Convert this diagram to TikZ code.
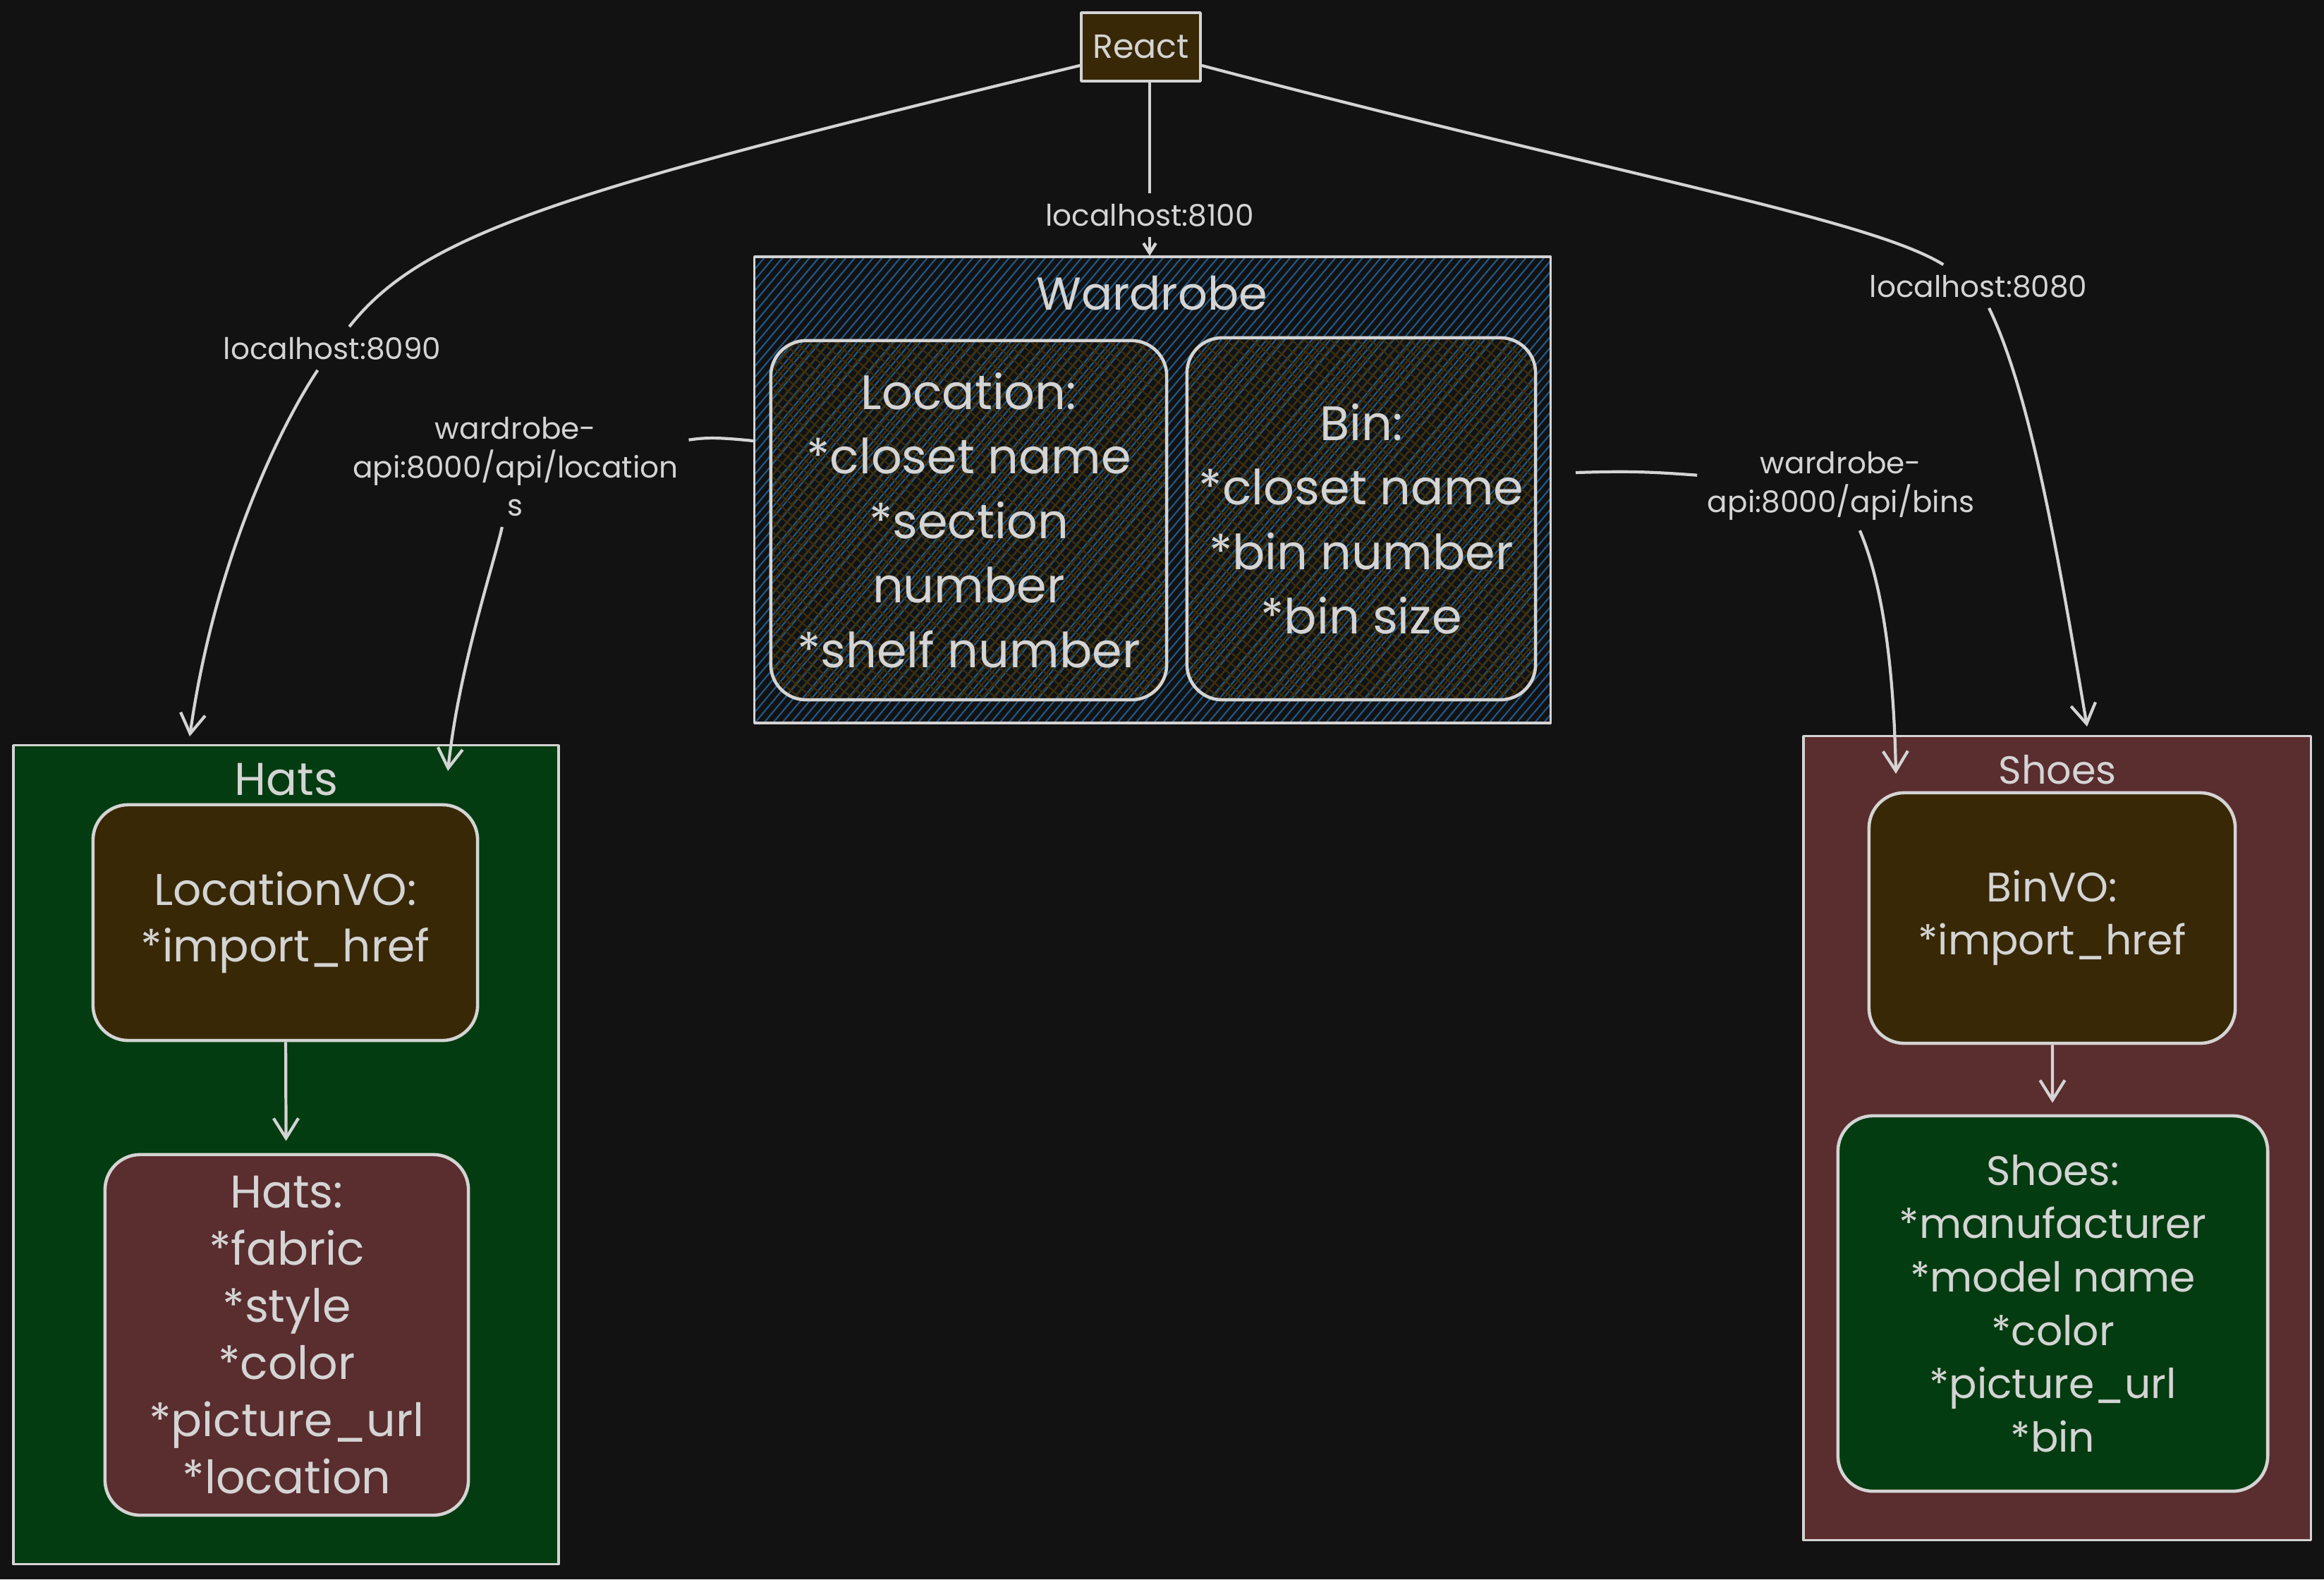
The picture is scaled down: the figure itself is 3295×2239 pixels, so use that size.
\documentclass[tikz,border=0pt]{standalone}
\usepackage{fontspec}
\setmainfont{Poppins}
\usetikzlibrary{arrows.meta,patterns.meta}
\definecolor{bgc}{HTML}{121212}
\definecolor{ink}{HTML}{D4D4D4}
\definecolor{brownf}{HTML}{382806}
\definecolor{greenf}{HTML}{033C10}
\definecolor{redf}{HTML}{5A2D2F}
\definecolor{hatchblue}{HTML}{1F5A8A}
\definecolor{hatchbrown}{HTML}{3E2E08}
\tikzset{
  box/.style={draw=ink, line width=1pt, inner sep=0pt, align=center, text=ink},
  rbox/.style={box, line width=1.3pt, rounded corners=0.5cm},
  ttl/.style={text=ink, inner sep=0pt},
  lbl/.style={text=ink, align=center, inner sep=4pt, font=\fontsize{12}{15.5}\selectfont},
  conn/.style={draw=ink, line width=1.2pt, -{Straight Barb[length=8pt,width=10pt]}},
}

\begin{document}
\begin{tikzpicture}[x=0.01cm, y=-0.01cm, line join=round]
		\fill[bgc] (0,0) rectangle (3295,2239);% page
		% frontend
		\node[box, fill=brownf, minimum width=1.69cm, minimum height=0.97cm,
		font=\fontsize{13.5}{16}\selectfont] (react) at (1617.5,66.5) {React};
		% wardrobe service
		\node[box, minimum width=11.28cm, minimum height=6.61cm,
		pattern={Lines[angle=50,distance=2.8pt,line width=0.6pt]}, pattern color=hatchblue] (wardrobe) at (1634,694.5) {};
		\node[ttl, font=\fontsize{18.6}{22}\selectfont] (wardtitle) at (1633,416) {Wardrobe};
		\node[rbox, minimum width=5.61cm, minimum height=5.09cm,
		pattern={Hatch[angle=50,distance=3.4pt,line width=0.6pt]}, pattern color=hatchbrown,
		font=\fontsize{19.5}{26}\selectfont] (location) at (1373.5,737.5)
		{Location:\\*closet name\\*section\\number\\*shelf number};
		\node[rbox, minimum width=4.94cm, minimum height=5.13cm,
		pattern={Hatch[angle=50,distance=3.4pt,line width=0.6pt]}, pattern color=hatchbrown,
		font=\fontsize{19.5}{26}\selectfont] (bin) at (1930,735.5)
		{Bin:\\*closet name\\*bin number\\*bin size};
		% hats service
		\node[box, fill=greenf, minimum width=7.73cm, minimum height=11.6cm] (hats) at (405.5,1637) {};
		\node[ttl, font=\fontsize{18.5}{21}\selectfont] (hatstitle) at (406,1105) {Hats};
		\node[rbox, fill=brownf, minimum width=5.45cm, minimum height=3.34cm,
		font=\fontsize{17.9}{22.7}\selectfont] (locvo) at (404.5,1308) {LocationVO:\\*import\_href};
		\node[rbox, fill=redf, minimum width=5.15cm, minimum height=5.11cm,
		font=\fontsize{18.5}{23}\selectfont] (hatsmodel) at (406.5,1892.5)
		{Hats:\\*fabric\\*style\\*color\\*picture\_url\\*location};
		% shoes service
		\node[box, fill=redf, minimum width=7.19cm, minimum height=11.39cm] (shoes) at (2916.5,1613.5) {};
		\node[ttl, font=\fontsize{15.8}{19}\selectfont] (shoestitle) at (2917,1091) {Shoes};
		\node[rbox, fill=brownf, minimum width=5.19cm, minimum height=3.55cm,
		font=\fontsize{16.6}{21.5}\selectfont] (binvo) at (2909.5,1301.5) {BinVO:\\*import\_href};
		\node[rbox, fill=greenf, minimum width=6.09cm, minimum height=5.32cm,
		font=\fontsize{16.6}{21.5}\selectfont] (shoesmodel) at (2910.5,1848)
		{Shoes:\\*manufacturer\\*model name\\*color\\*picture\_url\\*bin};
		% connector labels
		\node[lbl] (l8100) at (1630,305) {localhost:8100};
		\node[lbl] (l8090) at (471,494) {localhost:8090};
		\node[lbl] (l8080) at (2805,406) {localhost:8080};
		\node[lbl] (lloc) at (731,662) {wardrobe-\\api:8000/api/location\\s};
		\node[lbl] (lbins) at (2610,689) {wardrobe-\\api:8000/api/bins};
		\coordinate (hatstop) at (269,1044);% tip above hats
		\coordinate (hatsin) at (635,1093);
		\coordinate (shoestop) at (2959,1030);
		\coordinate (shoesin) at (2688,1097);
		\coordinate (wardout) at (2234,670);
		% connectors
		\draw[conn] (react.197) .. controls (800,270) and (600,330) .. (l8090)
		.. controls (400,600) and (305,790) .. (hatstop);
		\draw[conn, -{Straight Barb[length=4pt,width=5pt]}] (react.south -| l8100) -- (l8100) -- (l8100 |- wardrobe.north);
		\draw[conn] (react.-17) .. controls (2300,250) and (2650,310) .. (l8080)
		.. controls (2880,560) and (2920,800) .. (shoestop);
		\draw[conn] (wardrobe.173) .. controls (1020,620) and (1000,620) .. (lloc)
		.. controls (700,800) and (650,950) .. (hatsin);
		\draw[conn] (wardout) .. controls (2300,668) and (2330,668) .. (lbins)
		.. controls (2670,830) and (2685,950) .. (shoesin);
		\draw[conn, shorten >=0.17cm] (locvo) -- (hatsmodel);
		\draw[conn, shorten >=0.16cm] (binvo) -- (shoesmodel);
\end{tikzpicture}
\end{document}
